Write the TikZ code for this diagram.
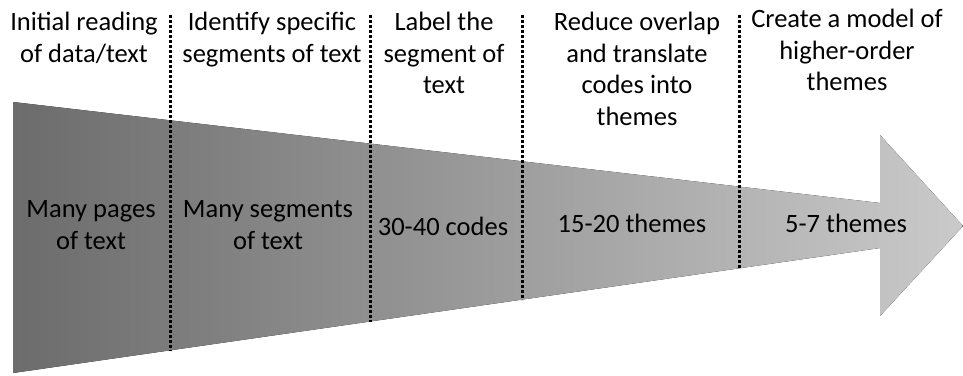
\documentclass[tikz,border=0pt]{standalone}
\usepackage{fontspec}
\setmainfont{Carlito}
\usepackage{xcolor}
\definecolor{ArrowDark}{RGB}{108,108,108}
\definecolor{ArrowLight}{RGB}{202,202,202}
\tikzset{
	steptext/.style={font=\fontsize{26.5}{31.5}\selectfont, align=center, inner sep=0pt},
	divider/.style={line width=3pt, dash pattern=on 2.5pt off 2.5pt}
}
\begin{document}
\begin{tikzpicture}[x=1pt,y=-1pt]
	\useasboundingbox (0,0) rectangle (963,375);
	% tapered arrow
	\fill[left color=ArrowDark, right color=ArrowLight]
		(13,102) -- (880,203) -- (880,135) -- (963,226) -- (880,316) -- (880,248) -- (13,373) -- cycle;
	% dividers
	\foreach \X/\Y [count=\Z] in {170/351, 370/322, 522/300, 739/268}
	{\coordinate (t\Z) at (\X,15);
	 \coordinate (b\Z) at (\X,\Y);
	 \draw[divider] (t\Z) -- (b\Z);}
	% stages
	\node[steptext, anchor=north] (s1) at (84,12) {Initial reading\\of data/text};
	\node[steptext, anchor=north] (s2) at (272,12) {Identify specific\\segments of text};
	\node[steptext, anchor=north] (s3) at (444,12) {Label the\\segment of\\text};
	\node[steptext, anchor=north] (s4) at (637,12) {Reduce overlap\\and translate\\codes into\\themes};
	\node[steptext, anchor=north] (s5) at (847,9) {Create a model of\\higher-order\\themes};
	% amounts
	\node[steptext] (a1) at (91,225) {Many pages\\of text};
	\node[steptext] (a2) at (268,225) {Many segments\\of text};
	\node[steptext] (a3) at (443,226) {30-40 codes};
	\node[steptext] (a4) at (632,223) {15-20 themes};
	\node[steptext] (a5) at (846,223) {5-7 themes};
\end{tikzpicture}
\end{document}
